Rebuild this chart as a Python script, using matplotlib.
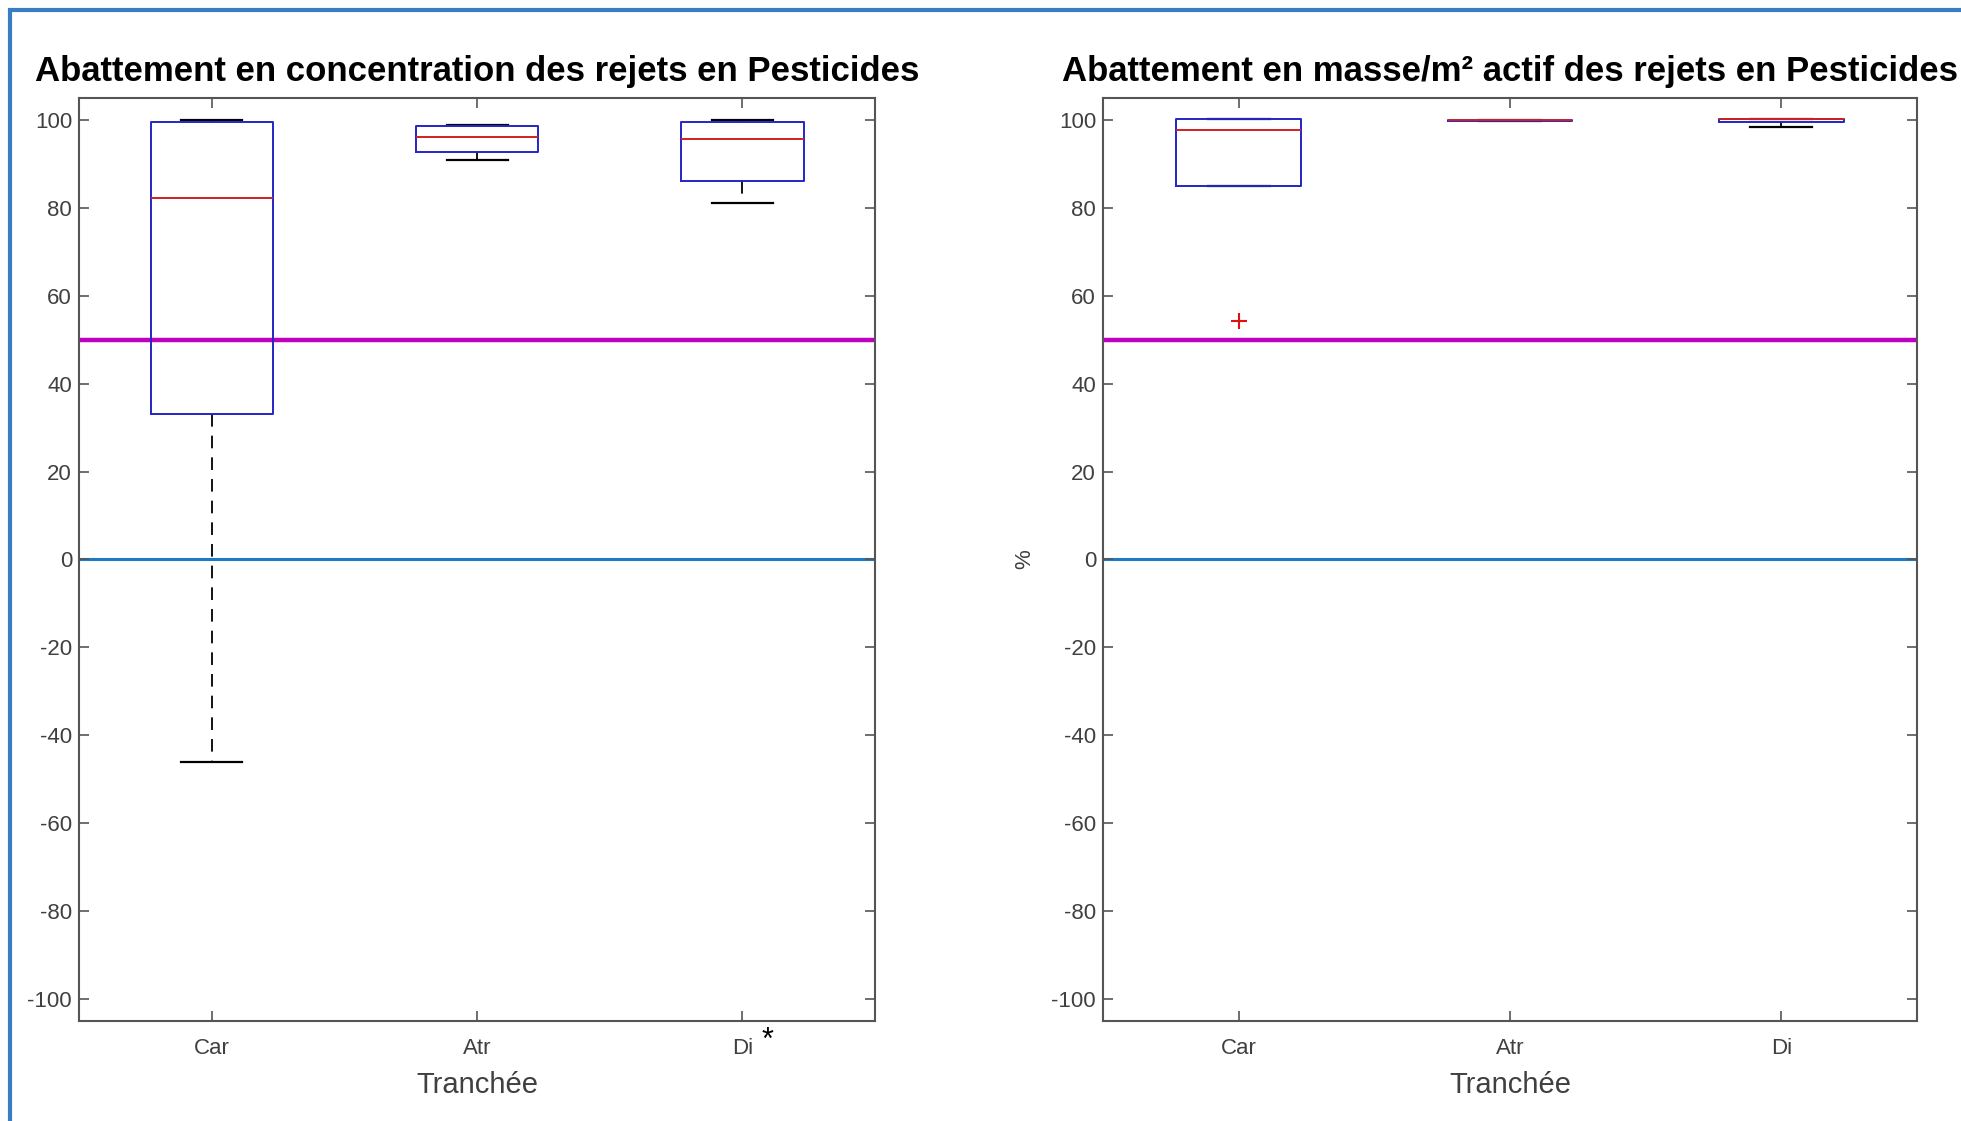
import numpy as np
import matplotlib.pyplot as plt
from matplotlib.patches import Rectangle

plt.rcParams['font.family'] = ['Liberation Sans', 'DejaVu Sans']
plt.rcParams['axes.unicode_minus'] = False

categories = ['Car', 'Atr', 'Di']

# abattement en concentration (%)
conc_lo = [-46.0, 90.9, 81.1]
conc_q1 = [33.0, 92.6, 86.2]
conc_med = [82.3, 96.1, 95.7]
conc_q3 = [99.5, 98.7, 99.6]
conc_hi = [100.0, 98.9, 100.0]
conc_fliers = [[], [], []]

# abattement en masse/m2 actif (%)
masse_lo = [85.0, 99.7, 98.4]
masse_q1 = [85.0, 99.7, 99.5]
masse_med = [97.7, 99.9, 100.2]
masse_q3 = [100.2, 100.0, 100.2]
masse_hi = [100.2, 100.0, 100.2]
masse_fliers = [[54.3], [], []]

seuil = 50
zero = 0

fig = plt.figure(figsize=(19.61, 11.21), dpi=100)
ax1 = fig.add_axes([0.0403, 0.0892, 0.406, 0.8234])
ax2 = fig.add_axes([0.5625, 0.0892, 0.415, 0.8234])

tick_col = '#404040'


def make_stats(lo, q1, med, q3, hi, fl):
    st = []
    for i in range(len(med)):
        st.append(dict(whislo=lo[i], q1=q1[i], med=med[i], q3=q3[i],
                       whishi=hi[i], fliers=fl[i]))
    return st


def draw(ax, stats, title):
    ax.axhline(seuil, color='#BF00BF', lw=3.2, zorder=1)
    ax.axhline(zero, color='#1F7AC4', lw=2.2, zorder=1)
    ax.bxp(stats, positions=[1, 2, 3], widths=0.46, showfliers=True,
           boxprops=dict(color='#2525C8', lw=1.4, zorder=3),
           medianprops=dict(color='#D02020', lw=1.4, zorder=4),
           whiskerprops=dict(color='black', lw=1.3, linestyle=(0, (7, 5)), zorder=2),
           capprops=dict(color='black', lw=1.6, zorder=2),
           flierprops=dict(marker='+', markeredgecolor='#E01010', markersize=12, markeredgewidth=1.5))
    ax.set_xlim(0.5, 3.5)
    ax.set_ylim(-105, 105)
    ax.set_yticks(np.arange(-100, 101, 20))
    ax.set_xticks([1, 2, 3])
    ax.set_xticklabels(categories)
    ax.tick_params(direction='in', length=7, width=1.2, top=True, right=True,
                   labelsize=16, colors='#555555', labelcolor=tick_col)
    ax.tick_params(axis='x', pad=12)
    ax.tick_params(axis='y', pad=5)
    for s in ax.spines.values():
        s.set_color('#555555')
        s.set_linewidth(1.5)
    ax.set_xlabel('Tranchée', fontsize=21, color=tick_col, labelpad=9)
    ax.set_title(title, fontsize=25, fontweight='bold', pad=12)


draw(ax1, make_stats(conc_lo, conc_q1, conc_med, conc_q3, conc_hi, conc_fliers),
     'Abattement en concentration des rejets en Pesticides')
draw(ax2, make_stats(masse_lo, masse_q1, masse_med, masse_q3, masse_hi, masse_fliers),
     'Abattement en masse/m² actif des rejets en Pesticides')
ax2.set_ylabel('%', fontsize=16, color=tick_col, labelpad=12)

# asterisque a cote de Di
ax1.annotate('*', xy=(3, 0), xycoords=('data', 'axes fraction'), xytext=(18, -20),
             textcoords='offset points', fontsize=22, ha='center', va='baseline')

# cadre bleu
fig.patches.append(Rectangle((10 / 1961, -0.05), 1.2, 1 - 10 / 1121 + 0.05,
                             transform=fig.transFigure, fill=False,
                             edgecolor='#3A7CC2', lw=3, clip_on=False))

fig.savefig('out.png', dpi=100)
